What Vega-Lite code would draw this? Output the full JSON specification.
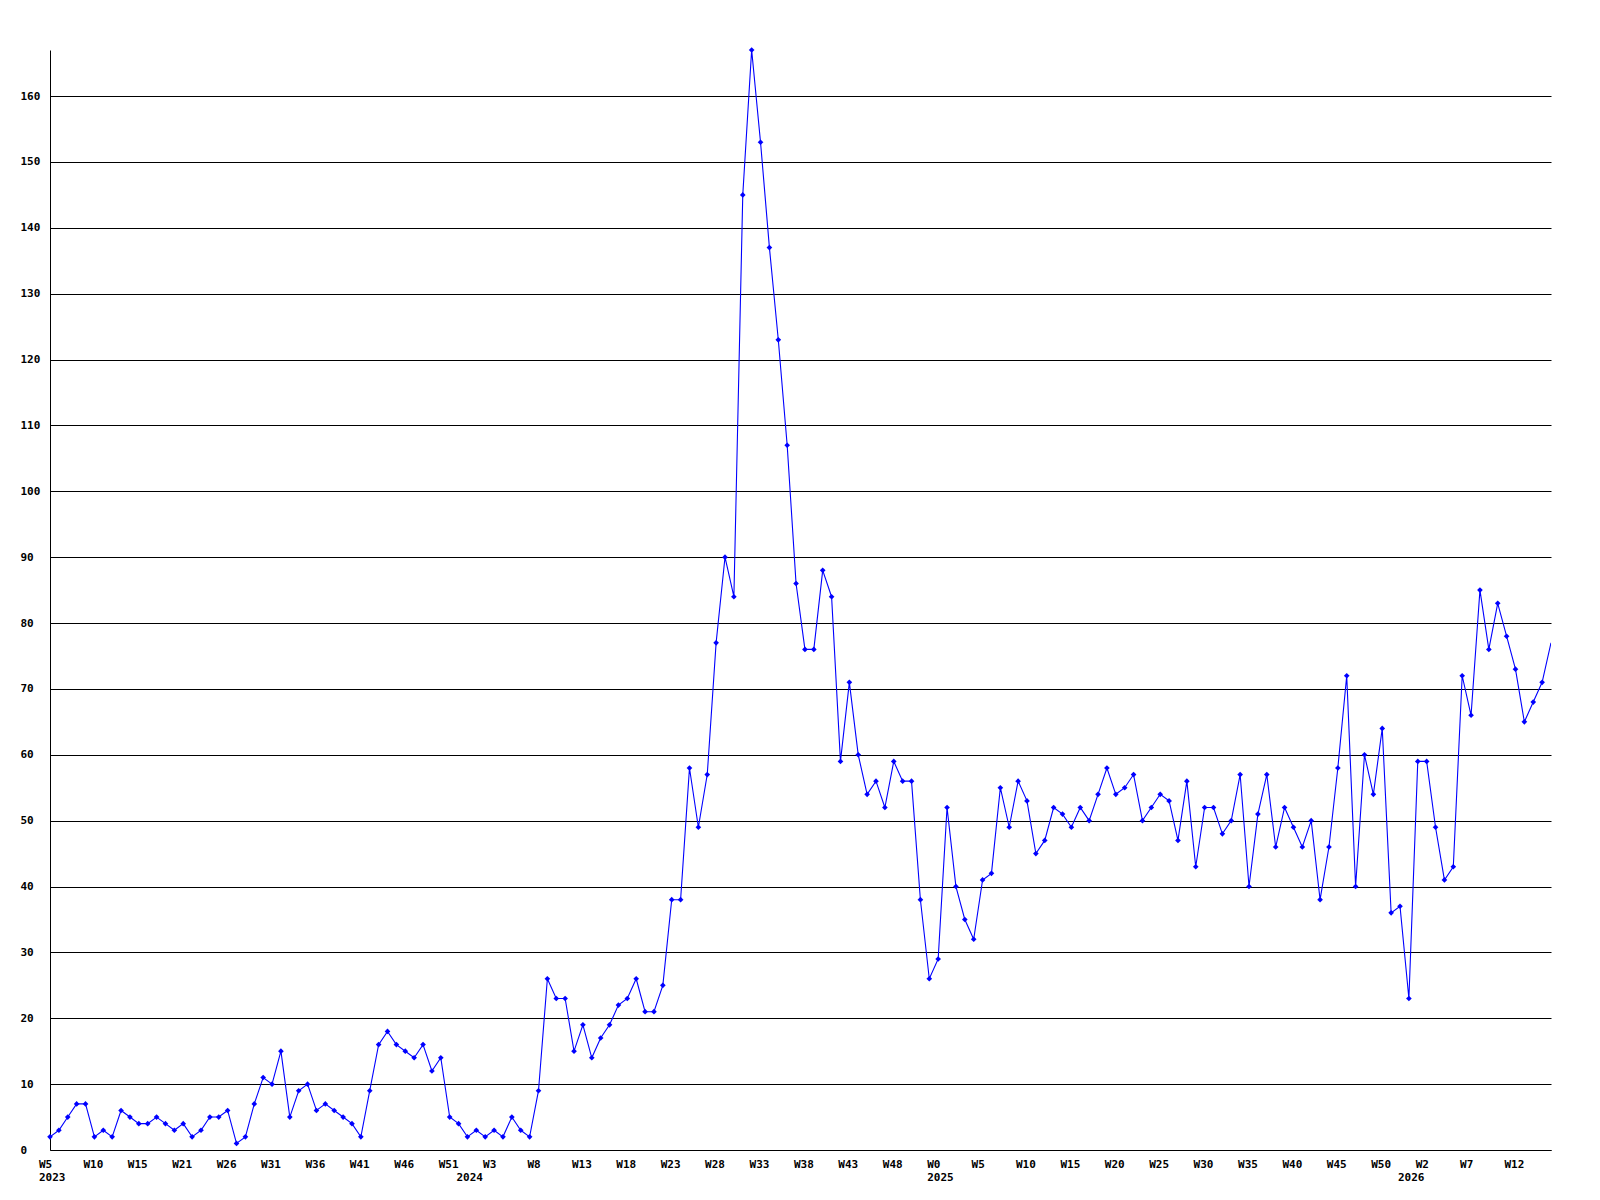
{
  "$schema": "https://vega.github.io/schema/vega-lite/v6.json",
  "width": 1501,
  "height": 1100,
  "autosize": "none",
  "padding": {"left": 50, "top": 50, "right": 49, "bottom": 50},
  "background": "white",
  "config": {
    "view": {"stroke": null},
    "axis": {"labelFont": "DejaVu Sans Mono", "labelFontWeight": "bold", "labelFontSize": 11, "labelColor": "black"}
  },
  "data": {"values": [
    {"i":0,"v":2},{"i":1,"v":3},{"i":2,"v":5},{"i":3,"v":7},{"i":4,"v":7},{"i":5,"v":2},{"i":6,"v":3},{"i":7,"v":2},{"i":8,"v":6},{"i":9,"v":5},
    {"i":10,"v":4},{"i":11,"v":4},{"i":12,"v":5},{"i":13,"v":4},{"i":14,"v":3},{"i":15,"v":4},{"i":16,"v":2},{"i":17,"v":3},{"i":18,"v":5},{"i":19,"v":5},
    {"i":20,"v":6},{"i":21,"v":1},{"i":22,"v":2},{"i":23,"v":7},{"i":24,"v":11},{"i":25,"v":10},{"i":26,"v":15},{"i":27,"v":5},{"i":28,"v":9},{"i":29,"v":10},
    {"i":30,"v":6},{"i":31,"v":7},{"i":32,"v":6},{"i":33,"v":5},{"i":34,"v":4},{"i":35,"v":2},{"i":36,"v":9},{"i":37,"v":16},{"i":38,"v":18},{"i":39,"v":16},
    {"i":40,"v":15},{"i":41,"v":14},{"i":42,"v":16},{"i":43,"v":12},{"i":44,"v":14},{"i":45,"v":5},{"i":46,"v":4},{"i":47,"v":2},{"i":48,"v":3},{"i":49,"v":2},
    {"i":50,"v":3},{"i":51,"v":2},{"i":52,"v":5},{"i":53,"v":3},{"i":54,"v":2},{"i":55,"v":9},{"i":56,"v":26},{"i":57,"v":23},{"i":58,"v":23},{"i":59,"v":15},
    {"i":60,"v":19},{"i":61,"v":14},{"i":62,"v":17},{"i":63,"v":19},{"i":64,"v":22},{"i":65,"v":23},{"i":66,"v":26},{"i":67,"v":21},{"i":68,"v":21},{"i":69,"v":25},
    {"i":70,"v":38},{"i":71,"v":38},{"i":72,"v":58},{"i":73,"v":49},{"i":74,"v":57},{"i":75,"v":77},{"i":76,"v":90},{"i":77,"v":84},{"i":78,"v":145},{"i":79,"v":167},
    {"i":80,"v":153},{"i":81,"v":137},{"i":82,"v":123},{"i":83,"v":107},{"i":84,"v":86},{"i":85,"v":76},{"i":86,"v":76},{"i":87,"v":88},{"i":88,"v":84},{"i":89,"v":59},
    {"i":90,"v":71},{"i":91,"v":60},{"i":92,"v":54},{"i":93,"v":56},{"i":94,"v":52},{"i":95,"v":59},{"i":96,"v":56},{"i":97,"v":56},{"i":98,"v":38},{"i":99,"v":26},
    {"i":100,"v":29},{"i":101,"v":52},{"i":102,"v":40},{"i":103,"v":35},{"i":104,"v":32},{"i":105,"v":41},{"i":106,"v":42},{"i":107,"v":55},{"i":108,"v":49},{"i":109,"v":56},
    {"i":110,"v":53},{"i":111,"v":45},{"i":112,"v":47},{"i":113,"v":52},{"i":114,"v":51},{"i":115,"v":49},{"i":116,"v":52},{"i":117,"v":50},{"i":118,"v":54},{"i":119,"v":58},
    {"i":120,"v":54},{"i":121,"v":55},{"i":122,"v":57},{"i":123,"v":50},{"i":124,"v":52},{"i":125,"v":54},{"i":126,"v":53},{"i":127,"v":47},{"i":128,"v":56},{"i":129,"v":43},
    {"i":130,"v":52},{"i":131,"v":52},{"i":132,"v":48},{"i":133,"v":50},{"i":134,"v":57},{"i":135,"v":40},{"i":136,"v":51},{"i":137,"v":57},{"i":138,"v":46},{"i":139,"v":52},
    {"i":140,"v":49},{"i":141,"v":46},{"i":142,"v":50},{"i":143,"v":38},{"i":144,"v":46},{"i":145,"v":58},{"i":146,"v":72},{"i":147,"v":40},{"i":148,"v":60},{"i":149,"v":54},
    {"i":150,"v":64},{"i":151,"v":36},{"i":152,"v":37},{"i":153,"v":23},{"i":154,"v":59},{"i":155,"v":59},{"i":156,"v":49},{"i":157,"v":41},{"i":158,"v":43},{"i":159,"v":72},
    {"i":160,"v":66},{"i":161,"v":85},{"i":162,"v":76},{"i":163,"v":83},{"i":164,"v":78},{"i":165,"v":73},{"i":166,"v":65},{"i":167,"v":68},{"i":168,"v":71},{"i":169,"v":77}
  ]},
  "encoding": {
    "x": {
      "field": "i", "type": "quantitative",
      "scale": {"domain": [0, 169], "nice": false, "zero": false},
      "axis": {
        "title": null,
        "values": [0,5,10,15,20,25,30,35,40,45,47,50,55,60,65,70,75,80,85,90,95,100,105,110,115,120,125,130,135,140,145,150,153,155,160,165],
        "labelExpr": "datum.value == 0 ? ['W5','2023'] : datum.value == 47 ? [' ','2024'] : datum.value == 100 ? ['W0','2025'] : datum.value == 153 ? [' ','2026'] : ['W5','W10','W15','W21','W26','W31','W36','W41','W46','W51','W3','W8','W13','W18','W23','W28','W33','W38','W43','W48','W0','W5','W10','W15','W20','W25','W30','W35','W40','W45','W50','W2','W7','W12'][datum.value / 5]",
        "grid": false,
        "ticks": false,
        "tickSize": 0,
        "domainColor": "black",
        "domainWidth": 1,
        "labelAlign": "left",
        "labelOffset": -11.5,
        "labelPadding": 8,
        "labelBaseline": "top",
        "labelLineHeight": 13,
        "labelFlush": false,
        "labelOverlap": false
      }
    },
    "y": {
      "field": "v", "type": "quantitative",
      "scale": {"domain": [0, 167], "nice": false},
      "axis": {
        "title": null,
        "values": [0,10,20,30,40,50,60,70,80,90,100,110,120,130,140,150,160],
        "grid": true,
        "gridColor": "black",
        "gridOpacity": 1,
        "gridWidth": 1,
        "ticks": false,
        "tickSize": 0,
        "domainColor": "black",
        "domainWidth": 1,
        "labelAlign": "left",
        "labelPadding": 30,
        "labelBaseline": "middle",
        "labelFlush": false,
        "labelOverlap": false
      }
    }
  },
  "layer": [
    {"mark": {"type": "line", "color": "#0000ff", "strokeWidth": 1.1, "clip": true}},
    {
      "transform": [{"filter": "datum.i < 169"}],
      "mark": {"type": "point", "shape": "diamond", "filled": true, "color": "#0000ff", "size": 32, "opacity": 1}
    }
  ]
}
